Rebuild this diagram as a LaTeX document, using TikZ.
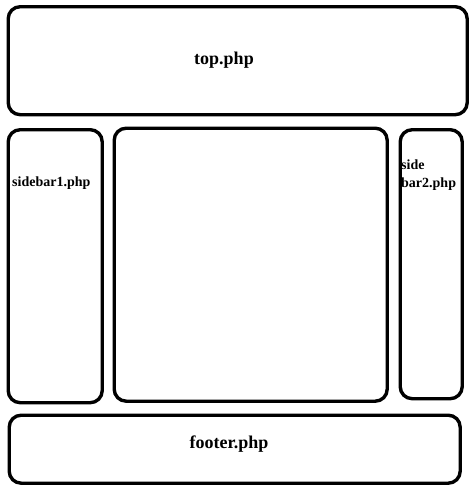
\documentclass[tikz,border=0pt]{standalone}
\usepackage{fontspec}
\setmainfont{Liberation Serif}
\usetikzlibrary{positioning}

\begin{document}
\begin{tikzpicture}[x=1pt, y=-1pt,
    panel/.style={draw, line width=3.4pt, rounded corners=12pt,
      anchor=north west, inner sep=0pt},
    tag/.style={font=\bfseries\fontsize{18}{20}\selectfont, inner sep=0pt},
    smalltag/.style={font=\bfseries\fontsize{14}{18}\selectfont,
      align=left, anchor=base west, inner sep=0pt}]
    \useasboundingbox (0,0) rectangle (474,490);
    % page regions
    \node [panel, minimum width=459pt, minimum height=108pt] (top) at (6.5,5) {};
    \node [panel, minimum width=94pt, minimum height=273pt] (side1) at (6.5,128) {};
    \node [panel, minimum width=273pt, minimum height=273pt] (main) at (112.5,126.5) {};
    \node [panel, minimum width=62pt, minimum height=269pt] (side2) at (398.5,128) {};
    \node [panel, minimum width=451pt, minimum height=68pt] (footer) at (7.5,413.5) {};
    % labels
    \node [tag, anchor=base] (toptext) at (224,64) {top.php};
    \node [tag, anchor=base] (foottext) at (229,448) {footer.php};
    \node [smalltag] (side1text) at (12,186) {sidebar1.php};
    \node [smalltag] (side2text) at (401,187) {side\\bar2.php};
\end{tikzpicture}
\end{document}
